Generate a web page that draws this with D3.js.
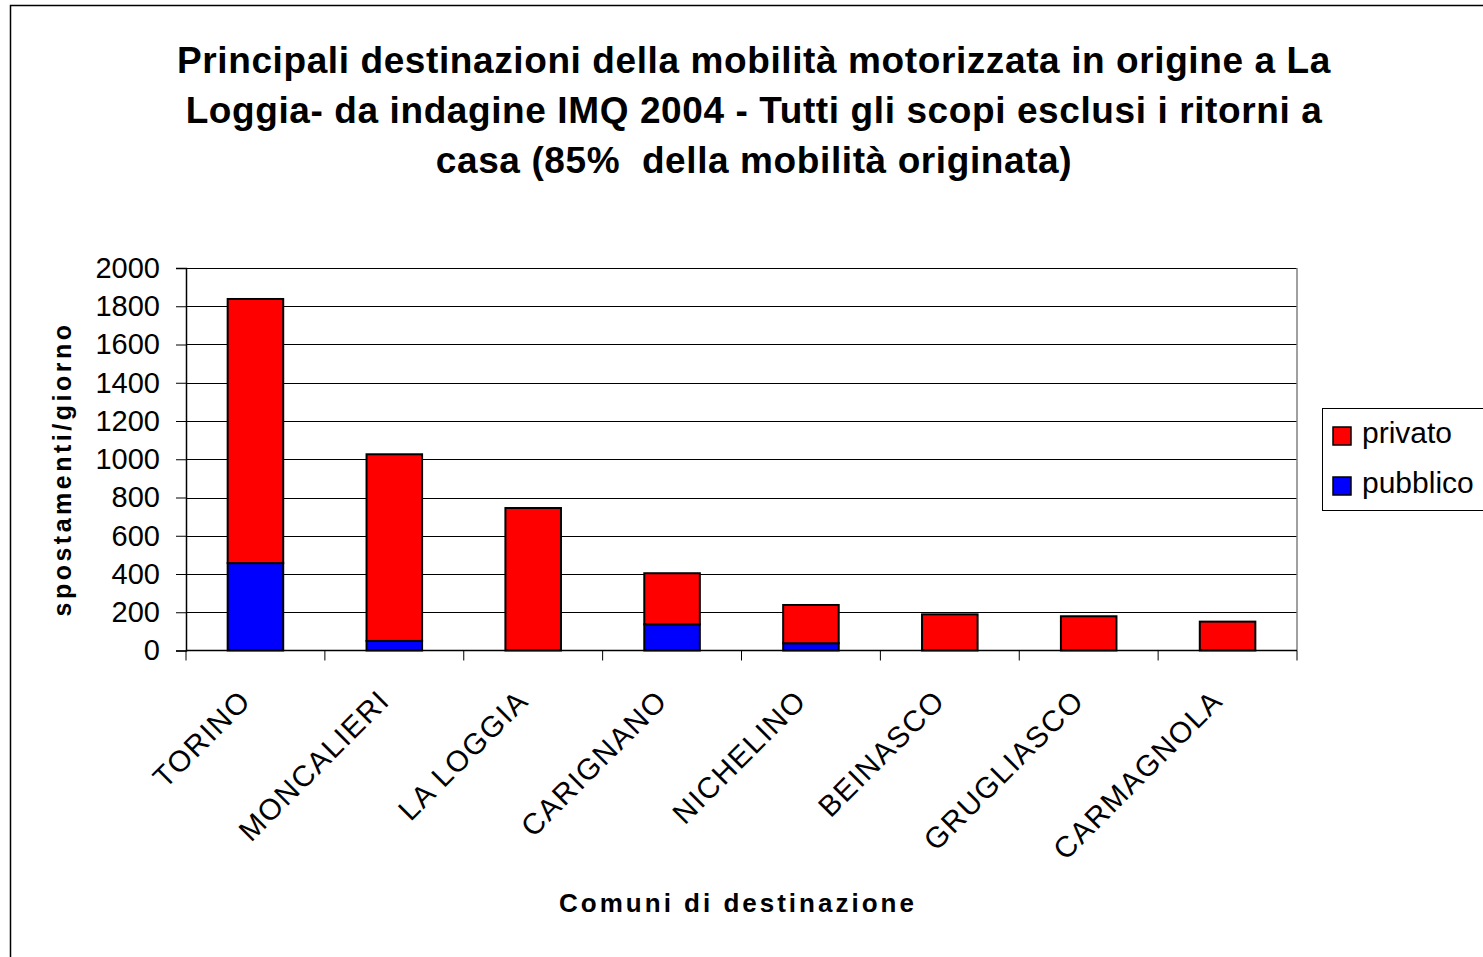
<!DOCTYPE html>
<html>
<head>
<meta charset="utf-8">
<script src="https://cdn.jsdelivr.net/npm/d3@7"></script>
<style>
  body { margin: 0; background: #fff; }
  svg { display: block; font-family: 'Liberation Sans', Arial, sans-serif; }
</style>
</head>
<body>
<svg id="chart" width="1483" height="957"></svg>
<script>
const comuni = ['TORINO', 'MONCALIERI', 'LA LOGGIA', 'CARIGNANO', 'NICHELINO', 'BEINASCO', 'GRUGLIASCO', 'CARMAGNOLA']
const pubblico = [457, 50, 0, 137, 38, 0, 0, 0]
const privato = [1381, 976, 745, 267, 200, 189, 179, 151]
const serie = ['pubblico', 'privato']
const colori = { privato: '#ff0000', pubblico: '#0000ff' }
const yTicks = d3.range(0, 2001, 200)
const titolo = [
  'Principali destinazioni della mobilità motorizzata in origine a La',
  'Loggia- da indagine IMQ 2004 - Tutti gli scopi esclusi i ritorni a',
  'casa (85%  della mobilità originata)'
]

const svg = d3.select('#chart')
const margin = { top: 268, left: 186 }
const W = 1483, H = 957
const w = 1297 - margin.left
const h = 650.5 - margin.top

// outer frame (right and bottom are cut off)
svg.append('path')
  .attr('d', `M10.5,${H} L10.5,5.5 L${W},5.5`)
  .attr('fill', 'none').attr('stroke', '#000').attr('stroke-width', 1.5)

svg.append('g').selectAll('text').data(titolo).enter().append('text')
  .attr('x', 754).attr('y', (d, i) => 73 + i * 50)
  .attr('text-anchor', 'middle')
  .attr('font-size', 37).attr('font-weight', 'bold')
  .attr('letter-spacing', 0.6)
  .style('white-space', 'pre')
  .text(d => d)

const data = comuni.map((c, i) => ({ comune: c, pubblico: pubblico[i], privato: privato[i] }))
const stack = d3.stack().keys(serie)(data)

const x = d3.scaleBand().domain(comuni).range([0, w]).paddingInner(0.6).paddingOuter(0.3)
const xb = d3.scaleLinear().domain([0, comuni.length]).range([0, w])
const y = d3.scaleLinear().domain([0, 2000]).range([h, 0])

const g = svg.append('g').attr('transform', `translate(${margin.left},${margin.top})`)

// grid
g.append('g').selectAll('line').data(yTicks.slice(1)).enter().append('line')
  .attr('x1', 0).attr('x2', w)
  .attr('y1', d => Math.round(y(d)) + 0.5).attr('y2', d => Math.round(y(d)) + 0.5)
  .attr('stroke', '#000').attr('stroke-width', 1.2)

// right border of plot area
g.append('line').attr('x1', w).attr('x2', w).attr('y1', 0).attr('y2', h)
  .attr('stroke', '#808080').attr('stroke-width', 1.5)

// bars
g.append('g').selectAll('g').data(stack).enter().append('g')
  .attr('fill', d => colori[d.key])
  .selectAll('rect').data(d => d.filter(s => s[1] - s[0] > 0)).enter().append('rect')
  .attr('x', d => x(d.data.comune))
  .attr('width', x.bandwidth())
  .attr('y', d => y(d[1]))
  .attr('height', d => y(d[0]) - y(d[1]))
  .attr('stroke', '#000').attr('stroke-width', 2)

// y axis
const yAxis = g.append('g')
  .call(d3.axisLeft(y).tickValues(yTicks).tickSize(10).tickPadding(16).tickFormat(d3.format('d')))
yAxis.select('.domain').attr('stroke', '#000').attr('stroke-width', 1.5)
yAxis.selectAll('line').attr('stroke', '#000')
yAxis.selectAll('text').attr('font-size', 29).attr('fill', '#000').attr('font-family', 'Liberation Sans, Arial, sans-serif')

// x axis: ticks at category boundaries
const xAxis = g.append('g').attr('transform', `translate(0,${h})`)
xAxis.append('line').attr('x1', 0).attr('x2', w).attr('stroke', '#000').attr('stroke-width', 1.5)
xAxis.selectAll('.tk').data(d3.range(comuni.length + 1)).enter().append('line')
  .attr('class', 'tk')
  .attr('x1', d => xb(d)).attr('x2', d => xb(d))
  .attr('y1', 0).attr('y2', 10)
  .attr('stroke', '#000')

xAxis.selectAll('.lbl').data(comuni).enter().append('text')
  .attr('class', 'lbl')
  .attr('transform', d => `translate(${x(d) + x.bandwidth() / 2 - 3},52) rotate(-45)`)
  .attr('text-anchor', 'end')
  .attr('font-size', 29.5)
  .attr('letter-spacing', 1.5)
  .text(d => d)

// axis titles
svg.append('text')
  .attr('transform', `translate(71,469) rotate(-90)`)
  .attr('text-anchor', 'middle')
  .attr('font-size', 25).attr('font-weight', 'bold')
  .attr('letter-spacing', 3.5)
  .text('spostamenti/giorno')

svg.append('text')
  .attr('x', 738).attr('y', 912)
  .attr('text-anchor', 'middle')
  .attr('font-size', 26).attr('font-weight', 'bold')
  .attr('letter-spacing', 3)
  .text('Comuni di destinazione')

// legend
const leg = svg.append('g').attr('transform', 'translate(1322,408)')
leg.append('rect').attr('x', 0.5).attr('y', 0.5).attr('width', 170).attr('height', 102)
  .attr('fill', '#fff').attr('stroke', '#000').attr('stroke-width', 1)
const items = ['privato', 'pubblico']
const li = leg.selectAll('.it').data(items).enter().append('g')
  .attr('class', 'it')
  .attr('transform', (d, i) => `translate(11,${27 + i * 50})`)
li.append('rect').attr('x', 0).attr('y', -8).attr('width', 18).attr('height', 18)
  .attr('fill', d => colori[d]).attr('stroke', '#000').attr('stroke-width', 1.5)
li.append('text').attr('x', 29).attr('y', 8).attr('font-size', 30).text(d => d)
</script>
</body>
</html>
